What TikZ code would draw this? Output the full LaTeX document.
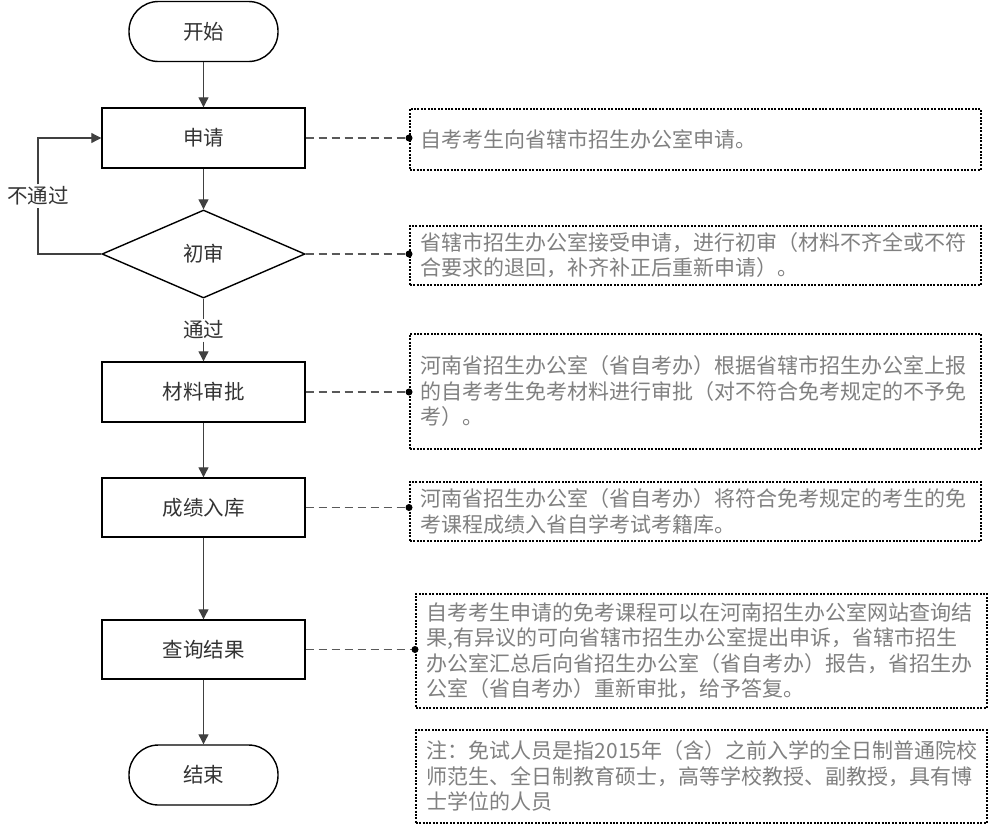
\documentclass[tikz,border=0pt]{standalone}
\usepackage{fontspec}
\setmainfont{Noto Sans CJK SC}
\usetikzlibrary{shapes.geometric,arrows.meta}
\begin{document}
\begin{tikzpicture}[x=1pt,y=-1pt,
  flowbox/.style={draw=black,line width=1.4pt,rectangle,minimum width=203pt,minimum height=60pt,inner sep=0pt,font=\fontsize{20.5}{24}\selectfont,text=black!80},
  term/.style={flowbox,rounded corners=29.5pt,minimum width=149pt},
  decision/.style={flowbox,diamond,minimum width=203pt,minimum height=88pt},
  note/.style={draw=black,line width=1.6pt,dash pattern=on 2pt off 1.4pt,rectangle,inner xsep=11pt,inner ysep=0pt,align=left,font=\fontsize{21}{25.5}\selectfont,text=black!50,anchor=north west,minimum width=571pt,text width=549pt},
  flow/.style={draw=black!75,line width=1.1pt,-{Triangle[length=10pt,width=10pt]}},
  plain/.style={draw=black!75,line width=1.1pt},
  link/.style={draw=black!65,line width=1.2pt,dash pattern=on 8pt off 5pt},
  lbl/.style={inner sep=2pt,font=\fontsize{20.5}{24}\selectfont,text=black!80},
  dot/.style={circle,fill=black,inner sep=0pt,minimum size=7pt}
]
\useasboundingbox[fill=white] (0,0) rectangle (1000,830);

% flow nodes
\node[term] (start) at (203.5,31.5) {开始};
\node[flowbox] (apply) at (203.5,138) {申请};
\node[decision] (check) at (203.5,254) {初审};
\node[flowbox] (mat) at (203.5,392) {材料审批};
\node[flowbox,minimum height=59pt] (store) at (203.5,507.5) {成绩入库};
\node[flowbox,minimum height=59pt] (query) at (203.5,649.5) {查询结果};
\node[term] (stop) at (203.5,775) {结束};

% labels
\node[lbl] (fail) at (38,196) {不通过};
\node[lbl] (pass) at (203.5,330) {通过};
\coordinate (lp) at (38,254);

% main flow
\draw[flow] (start) -- (apply);
\draw[flow] (apply) -- (check);
\draw[plain] (check.south) -- (pass.north);
\draw[flow] (pass.south) -- (mat.north);
\draw[flow] (mat) -- (store);
\draw[flow] (store) -- (query);
\draw[flow] (query) -- (stop);
\draw[plain] (check.west) -- (lp) -- (fail.south);
\draw[flow] (fail.north) |- (apply.west);

% notes
\node[note,minimum height=61pt] (n1) at (409,108) {自考考生向省辖市招生办公室申请。};
\node[note,minimum height=59pt] (n2) at (409,225) {省辖市招生办公室接受申请，进行初审（材料不齐全或不符\\合要求的退回，补齐补正后重新申请）。};
\node[note,minimum height=115pt] (n3) at (409,333) {河南省招生办公室（省自考办）根据省辖市招生办公室上报\\的自考考生免考材料进行审批（对不符合免考规定的不予免\\考）。};
\node[note,minimum height=59pt] (n4) at (409,481) {河南省招生办公室（省自考办）将符合免考规定的考生的免\\考课程成绩入省自学考试考籍库。};
\node[note,minimum height=114pt] (n5) at (415,593) {自考考生申请的免考课程可以在河南招生办公室网站查询结\\果,有异议的可向省辖市招生办公室提出申诉，省辖市招生\\办公室汇总后向省招生办公室（省自考办）报告，省招生办\\公室（省自考办）重新审批，给予答复。};
\node[note,minimum height=93pt] (n6) at (415,729) {注：免试人员是指2015年（含）之前入学的全日制普通院校\\师范生、全日制教育硕士，高等学校教授、副教授，具有博\\士学位的人员};

% links to notes
\draw[link] (apply.east) -- (apply.east -| n1.west) node[dot] (d1) {};
\draw[link] (check.east) -- (check.east -| n2.west) node[dot] (d2) {};
\draw[link] (mat.east) -- (mat.east -| n3.west) node[dot] (d3) {};
\draw[link] (store.east) -- (store.east -| n4.west) node[dot] (d4) {};
\draw[link] (query.east) -- (query.east -| n5.west) node[dot] (d5) {};
\end{tikzpicture}
\end{document}
